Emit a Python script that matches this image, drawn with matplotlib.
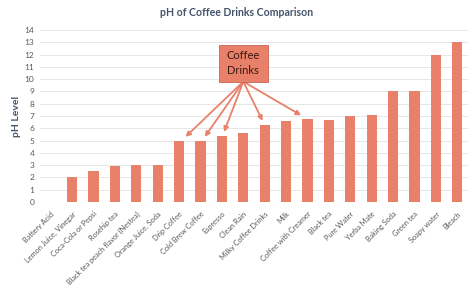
import matplotlib
matplotlib.use('Agg')
import matplotlib.pyplot as plt
from matplotlib.patches import Rectangle

plt.rcParams['font.family'] = ['Lato', 'DejaVu Sans']

# datos
drinks = ['Battery Acid', 'Lemon Juice, Vinegar', 'Coca-Cola or Pepsi', 'Rosehip tea',
          'Black tea peach flavor (Nestea)', 'Orange Juice, Soda', 'Drip Coffee',
          'Cold Brew Coffee', 'Espresso', 'Clean Rain', 'Milky Coffee Drinks', 'Milk',
          'Coffee with Creamer', 'Black tea', 'Pure Water', 'Yerba Mate', 'Baking Soda',
          'Green tea', 'Soapy water', 'Bleach']
ph = [0, 2.0, 2.5, 2.9, 3.0, 3.0, 5.0, 5.0, 5.4, 5.6, 6.3, 6.6, 6.75, 6.7, 7.0, 7.1,
      9.0, 9.0, 12.0, 13.0]
coffee = ['Drip Coffee', 'Cold Brew Coffee', 'Espresso', 'Milky Coffee Drinks',
          'Coffee with Creamer']

color = '#E9806A'
fig = plt.figure(figsize=(4.74, 2.91), dpi=100)
ax = fig.add_axes([0.0844, 0.306, 0.903, 0.591])
x = list(range(len(drinks)))
ax.bar(x, ph, width=0.47, color=color, zorder=3)
ax.set_ylim(0, 14)
ax.set_xlim(-0.5, len(drinks) - 0.5)
ax.set_yticks(range(15))
ax.yaxis.grid(True, color='#e6e6e6', linewidth=0.7, zorder=0)
for s in ax.spines.values():
    s.set_visible(False)
ax.tick_params(axis='y', length=0, labelsize=6, colors='#595959', pad=4)
ax.tick_params(axis='x', length=0, labelsize=5.3, colors='#595959', pad=6)
ax.set_xticks(x)
ax.set_xticklabels(drinks, rotation=45, ha='right', rotation_mode='anchor')
ax.set_ylabel('pH Level', fontsize=7.5, fontweight='bold', color='#44546A', labelpad=3)
fig.suptitle('pH of Coffee Drinks Comparison', x=0.5, y=0.975, fontsize=7.6,
             fontweight='bold', color='#44546A')

# caja y flechas
bx, by = 9.0, 11.3
ax.add_patch(Rectangle((bx - 1.15, by - 1.5), 2.3, 3.0, fc=color, ec='#c96650',
                       lw=0.6, zorder=5))
ax.text(bx, by, 'Coffee\nDrinks', ha='center', va='center', fontsize=8,
        color='#3a1a10', linespacing=1.5, zorder=6)
for d in coffee:
    i = drinks.index(d)
    tip = (i + 0.1 * (bx - i), ph[i] + 0.3)
    ax.annotate('', xy=tip, xytext=(bx, by - 1.5),
                arrowprops=dict(arrowstyle='-|>', color=color, lw=1.3,
                                mutation_scale=7, shrinkA=0, shrinkB=0), zorder=4)

plt.savefig('out.png', dpi=100)
